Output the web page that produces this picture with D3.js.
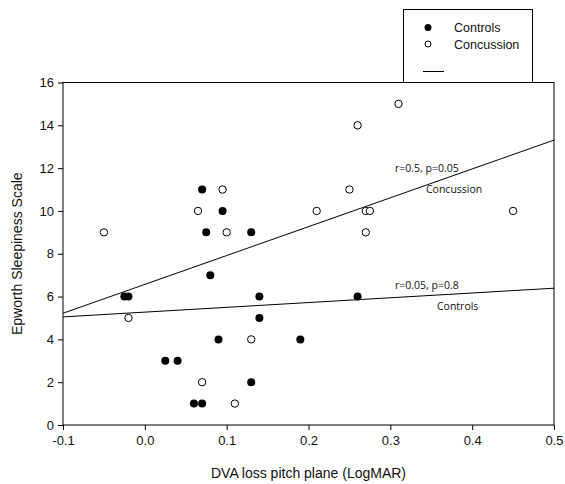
<!DOCTYPE html>
<html><head><meta charset="utf-8">
<script src="https://cdn.jsdelivr.net/npm/d3@7"></script>
<style>body{margin:0;background:#fff}</style>
</head><body>
<script>
const controlsX = [0.07,0.095,0.075,0.13,0.08,-0.025,-0.02,0.14,0.26,0.14,0.09,0.19,0.025,0.04,0.13,0.06,0.07];
const controlsY = [11,10,9,9,7,6,6,6,6,5,4,4,3,3,2,1,1];
const concussionX = [0.095,0.065,0.10,-0.05,0.31,0.26,0.25,0.21,0.27,0.275,0.27,0.45,-0.02,0.13,0.07,0.11];
const concussionY = [11,10,9,9,15,14,11,10,10,10,9,10,5,4,2,1];
const fitConcussion = [[-0.1,5.22],[0.5,13.31]];
const fitControls = [[-0.1,5.05],[0.5,6.39]];
const xTicks = [-0.1,0.0,0.1,0.2,0.3,0.4,0.5];
const xTickLabels = ["-0.1","0.0","0.1","0.2","0.3","0.4","0.5"];
const yTicks = [0,2,4,6,8,10,12,14,16];

const W=565,H=484;
const svg=d3.select("body").append("svg").attr("width",W).attr("height",H);
const L=63,R=554,T=82.5,B=425;
const x=d3.scaleLinear().domain([-0.1,0.5]).range([L,R]);
const y=d3.scaleLinear().domain([0,16]).range([B,T]);
const font="Liberation Sans, Arial, sans-serif";

// frame
svg.append("rect").attr("x",L).attr("y",T).attr("width",R-L).attr("height",B-T)
  .attr("fill","none").attr("stroke","#000").attr("stroke-width",1);

const xa=svg.append("g").attr("transform",`translate(0,${B})`)
  .call(d3.axisBottom(x).tickValues(xTicks).tickSize(5).tickPadding(6).tickFormat((d,i)=>xTickLabels[i]));
const ya=svg.append("g").attr("transform",`translate(${L},0)`)
  .call(d3.axisLeft(y).tickValues(yTicks).tickSize(5).tickPadding(4).tickFormat(d3.format("d")));
[xa,ya].forEach(a=>{a.select(".domain").remove();
  a.selectAll("text").attr("font-family",font).attr("font-size",13).attr("fill","#111");
  a.selectAll("line").attr("stroke","#000");});

// fit lines
const line=d3.line().x(d=>x(d[0])).y(d=>y(d[1]));
[fitConcussion,fitControls].forEach(f=>svg.append("path").attr("d",line(f))
  .attr("fill","none").attr("stroke","#000").attr("stroke-width",1));

// points
svg.append("g").selectAll("circle").data(controlsX.map((v,i)=>[v,controlsY[i]])).join("circle")
  .attr("cx",d=>x(d[0])).attr("cy",d=>y(d[1])).attr("r",4).attr("fill","#000");
svg.append("g").selectAll("circle").data(concussionX.map((v,i)=>[v,concussionY[i]])).join("circle")
  .attr("cx",d=>x(d[0])).attr("cy",d=>y(d[1])).attr("r",3.7).attr("fill","#fff")
  .attr("stroke","#000").attr("stroke-width",1);

// annotations
const af="Open Sans, sans-serif";
const ann=[["r=0.5, p=0.05",395,172],["Concussion",426,193],["r=0.05, p=0.8",395,289],["Controls",437,310]];
ann.forEach(a=>svg.append("text").attr("x",a[1]).attr("y",a[2]).text(a[0])
  .attr("font-family",af).attr("font-size",10.5).attr("fill","#111"));

// axis titles
svg.append("text").attr("x",(L+R)/2).attr("y",478).attr("text-anchor","middle")
  .attr("font-family",font).attr("font-size",14).attr("fill","#111").text("DVA loss pitch plane (LogMAR)");
svg.append("text").attr("transform",`translate(22,${(T+B)/2}) rotate(-90)`).attr("text-anchor","middle")
  .attr("font-family",font).attr("font-size",14).attr("fill","#111").text("Epworth Sleepiness Scale");

// legend
const lg=svg.append("g");
lg.append("rect").attr("x",403.5).attr("y",9.5).attr("width",129).attr("height",73)
  .attr("fill","#fff").attr("stroke","#000");
lg.append("circle").attr("cx",428).attr("cy",27.5).attr("r",3.5).attr("fill","#000");
lg.append("circle").attr("cx",428).attr("cy",44).attr("r",3).attr("fill","#fff").attr("stroke","#000");
lg.append("line").attr("x1",423).attr("x2",444).attr("y1",71.5).attr("y2",71.5).attr("stroke","#000");
lg.append("text").attr("x",454).attr("y",32).attr("font-family",font).attr("font-size",12.5).attr("fill","#111").text("Controls");
lg.append("text").attr("x",454).attr("y",48.5).attr("font-family",font).attr("font-size",12.5).attr("fill","#111").text("Concussion");
</script>
</body></html>
